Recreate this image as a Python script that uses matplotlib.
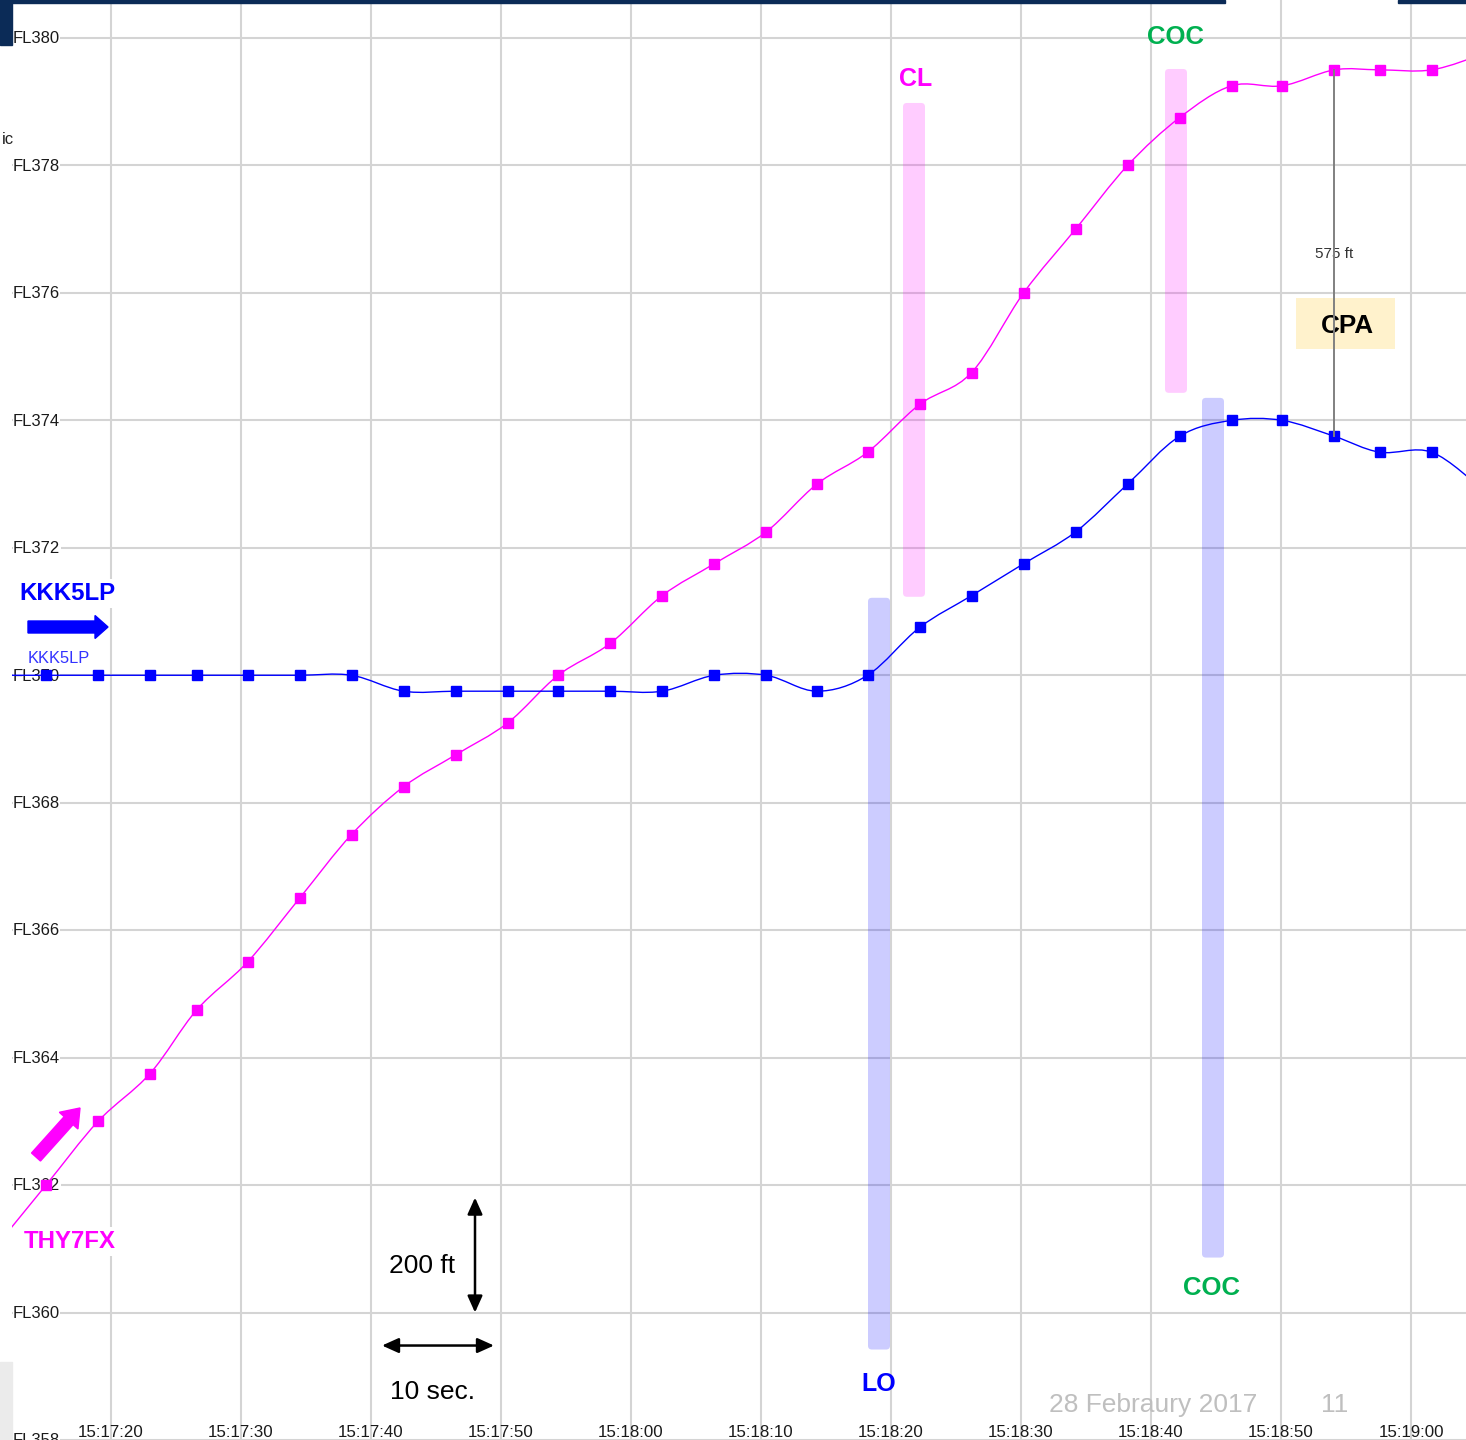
import numpy as np
import matplotlib
matplotlib.use('Agg')
import matplotlib.pyplot as plt
from matplotlib.path import Path
from matplotlib.patches import PathPatch, FancyBboxPatch, Rectangle, FancyArrow

plt.rcParams['font.family'] = ['Liberation Sans', 'DejaVu Sans']

# ---------------- data ----------------
# time in seconds after 15:17:00
times = [11.0, 15.0, 19.0, 23.0, 26.6, 30.5, 34.5, 38.5, 42.5, 46.5, 50.5, 54.4, 58.4,
         62.4, 66.4, 70.4, 74.3, 78.2, 82.2, 86.2, 90.2, 94.2, 98.2, 102.2, 106.2,
         110.1, 114.1, 117.6, 121.6, 125.6]
thy7fx_alt = [36100, 36200, 36300, 36375, 36475, 36550, 36650, 36750, 36825, 36875,
              36925, 37000, 37050, 37125, 37175, 37225, 37300, 37350, 37425, 37475,
              37600, 37700, 37800, 37875, 37925, 37925, 37950, 37950, 37950, 37975]
kkk5lp_alt = [37000, 37000, 37000, 37000, 37000, 37000, 37000, 37000, 36975, 36975,
              36975, 36975, 36975, 36975, 37000, 37000, 36975, 37000, 37075, 37125,
              37175, 37225, 37300, 37375, 37400, 37400, 37375, 37350, 37350, 37290]
xtick_secs = [20, 30, 40, 50, 60, 70, 80, 90, 100, 110, 120]
xtick_labels = ["15:17:20", "15:17:30", "15:17:40", "15:17:50", "15:18:00", "15:18:10",
                "15:18:20", "15:18:30", "15:18:40", "15:18:50", "15:19:00"]
fl_levels = [358, 360, 362, 364, 366, 368, 370, 372, 374, 376, 378, 380]
fl_labels = ["FL358", "FL360", "FL362", "FL364", "FL366", "FL368", "FL370", "FL372",
             "FL374", "FL376", "FL378", "FL380"]
cpa_index = 26

# --------------- helpers (pixel -> data for annotation placement) -------------
def T(px):
    return 20 + (px - 111) / 13.0

def A(py):
    return 38000 - (py - 38) / 0.6375

TXT = 0.6375 * 2  # small downward nudge for text centring (ft)

W, H = 1466, 1440
fig = plt.figure(figsize=(W / 100, H / 100), dpi=100)
ax = fig.add_axes([12 / W, 0, 1454 / W, 1])
ax.set_xlim(T(12), T(1466))
ax.set_ylim(A(1440), A(0))
ax.set_xticks(xtick_secs)
ax.set_yticks([l * 100 for l in fl_levels])
ax.grid(True, color='#d4d4d4', lw=1.5, zorder=0)
ax.set_axisbelow(True)
ax.tick_params(length=0, labelbottom=False, labelleft=False)
for s in ax.spines.values():
    s.set_visible(False)

# FL labels
for lvl, lab in zip(fl_levels, fl_labels):
    ax.text(T(13), lvl * 100 - TXT, lab, ha='left', va='center', fontsize=12,
            color='#1a1a1a', zorder=1.5,
            bbox=dict(fc='white', ec='none', pad=0.3))
# time labels
for s, lab in zip(xtick_secs, xtick_labels):
    ax.text(s, A(1433), lab, ha='center', va='center', fontsize=12.2,
            color='#1a1a1a', zorder=1.5)


def smooth_path(x, y):
    x = np.asarray(x, float)
    y = np.asarray(y, float)
    P = np.column_stack([x, y])
    n = len(P)
    verts = [P[0]]
    codes = [Path.MOVETO]
    for i in range(n - 1):
        p0 = P[i - 1] if i > 0 else P[i]
        p1 = P[i]
        p2 = P[i + 1]
        p3 = P[i + 2] if i + 2 < n else P[i + 1]
        c1 = p1 + (p2 - p0) / 6.0
        c2 = p2 - (p3 - p1) / 6.0
        verts += [c1, c2, p2]
        codes += [Path.CURVE4] * 3
    return Path(verts, codes)


# event bars
events = [
    ("CL", '#ff00ff', T(903), T(925), A(597), A(103)),
    ("COC", '#ff00ff', T(1165), T(1187), A(393), A(69)),
    ("LO", '#0000ff', T(868), T(890), A(1350), A(598)),
    ("COC", '#0000ff', T(1202), T(1224), A(1258), A(398)),
]
for _, col, x0, x1, y0, y1 in events:
    ax.add_patch(FancyBboxPatch((x0, y0), x1 - x0, y1 - y0,
                                boxstyle="round,pad=0,rounding_size=0.3",
                                mutation_aspect=20, fc=col, ec='none', alpha=0.2,
                                zorder=2))

ax.text(T(916), A(79), "CL", color='#ff00ff', fontsize=18, fontweight='bold',
        ha='center', va='center', zorder=5)
ax.text(T(1176), A(37), "COC", color='#00b050', fontsize=18.5, fontweight='bold',
        ha='center', va='center', zorder=5)
ax.text(T(1212), A(1288), "COC", color='#00b050', fontsize=18.5, fontweight='bold',
        ha='center', va='center', zorder=5)
ax.text(T(879), A(1384), "LO", color='#0000ff', fontsize=18, fontweight='bold',
        ha='center', va='center', zorder=5)

# CPA box
ax.add_patch(Rectangle((T(1296), A(349)), T(1395) - T(1296), A(298) - A(349),
                       fc='#fff2cc', ec='none', zorder=2))
ax.text(T(1347), A(326), "CPA", fontsize=18.8, fontweight='bold', ha='center',
        va='center', color='black', zorder=3)

# data lines
ax.add_patch(PathPatch(smooth_path(times, thy7fx_alt), fill=False, ec='#ff00ff',
                       lw=1.0, zorder=3))
ax.add_patch(PathPatch(smooth_path(times, kkk5lp_alt), fill=False, ec='#0000ff',
                       lw=1.0, zorder=3))
ax.plot(times, thy7fx_alt, 's', ms=6.5, color='#ff00ff', mec='#ff00ff', zorder=4)
ax.plot(times, kkk5lp_alt, 's', ms=6.5, color='#0000ff', mec='#0000ff', zorder=4)

# CPA vertical line
tc = times[cpa_index]
ax.plot([tc, tc], [kkk5lp_alt[cpa_index], thy7fx_alt[cpa_index]], color='#808080',
        lw=1.4, zorder=5)
ax.text(tc, A(254), f"{thy7fx_alt[cpa_index] - kkk5lp_alt[cpa_index]} ft",
        fontsize=11, ha='center', va='center', color='#333333', zorder=4)

# callsign labels
ax.text(T(67.5), A(594), "KKK5LP", color='#0000ff', fontsize=17.3, fontweight='bold',
        ha='center', va='center', zorder=2.5,
        bbox=dict(fc='white', ec='none', pad=2))
ax.text(T(59), A(659), "KKK5LP", color='#3333ff', fontsize=11.8,
        ha='center', va='center', zorder=2.5)
ax.text(T(70), A(1242), "THY7FX", color='#ff00ff', fontsize=17.3, fontweight='bold',
        ha='center', va='center', zorder=2.5,
        bbox=dict(fc='white', ec='none', pad=2))

# scale arrows
ax.annotate('', xy=(T(475), A(1198)), xytext=(T(475), A(1313)),
            arrowprops=dict(arrowstyle='<|-|>,head_length=1.0,head_width=0.45',
                            color='black', lw=1.8, shrinkA=0, shrinkB=0), zorder=5)
ax.annotate('', xy=(T(494), A(1346)), xytext=(T(382), A(1346)),
            arrowprops=dict(arrowstyle='<|-|>,head_length=1.0,head_width=0.45',
                            color='black', lw=1.8, shrinkA=0, shrinkB=0), zorder=5)
ax.text(T(422), A(1266), "200 ft", fontsize=19, ha='center', va='center',
        color='black', zorder=5)
ax.text(T(432), A(1392), "10 sec.", fontsize=19, ha='center', va='center',
        color='black', zorder=5)

# footer
ax.text(T(1153), A(1405), "28 Febraury 2017", fontsize=19, ha='center', va='center',
        color='#bfbfbf', zorder=5)
ax.text(T(1335), A(1405), "11", fontsize=19, ha='center', va='center',
        color='#bfbfbf', zorder=5)

# direction arrows (figure inches coordinates)
fig.add_artist(FancyArrow(0.28, (H - 627) / 100, 0.80, 0, width=0.12,
                          head_width=0.23, head_length=0.13,
                          length_includes_head=True, color='#0000ff',
                          transform=fig.dpi_scale_trans, zorder=6))
fig.add_artist(FancyArrow(0.36, (H - 1157) / 100, 0.44, 0.49, width=0.12,
                          head_width=0.25, head_length=0.17,
                          length_includes_head=True, color='#ff00ff',
                          transform=fig.dpi_scale_trans, zorder=6))

# slide decorations
navy = '#0b2b57'
fig.add_artist(Rectangle((0, 1 - 3 / H), 1225 / W, 3 / H, transform=fig.transFigure,
                         color=navy, zorder=10))
fig.add_artist(Rectangle((1398 / W, 1 - 3 / H), 68 / W, 3 / H, transform=fig.transFigure,
                         color=navy, zorder=10))
fig.add_artist(Rectangle((0, 1 - 45 / H), 12 / W, 45 / H, transform=fig.transFigure,
                         color=navy, zorder=10))
fig.add_artist(Rectangle((0, 0), 12 / W, 78 / H, transform=fig.transFigure,
                         color='#ebebeb', zorder=10))
fig.text(14 / W, 1 - 140 / H, "ic", ha='right', va='center', fontsize=12,
         color='#222222')

fig.savefig('out.png', dpi=100)
